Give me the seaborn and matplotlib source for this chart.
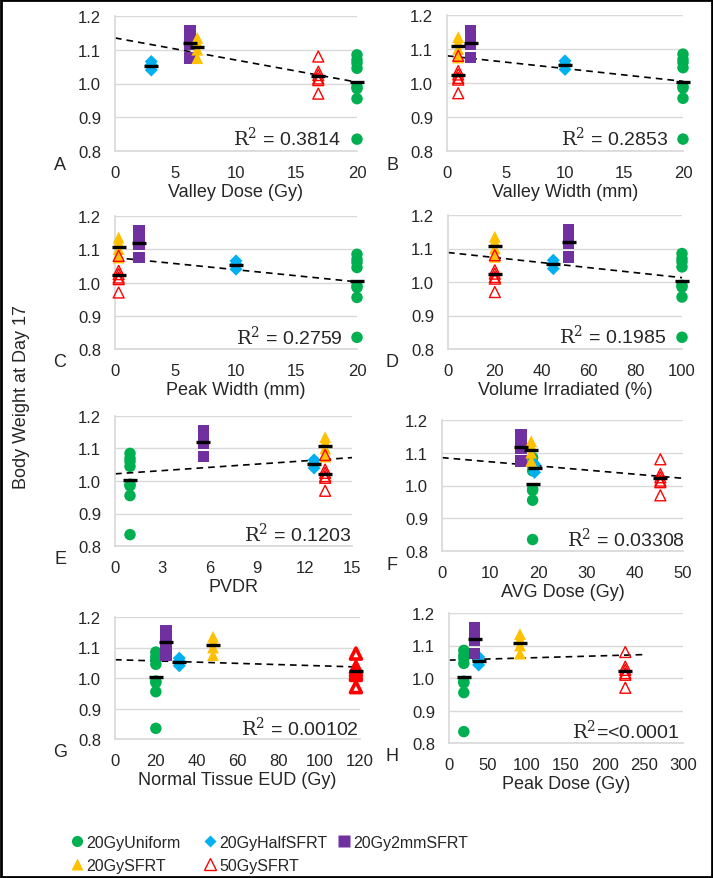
import numpy as np
import pandas as pd
import matplotlib
matplotlib.use("Agg")
import matplotlib.pyplot as plt
from matplotlib.lines import Line2D
from matplotlib.patches import Rectangle
from matplotlib.ticker import FormatStrFormatter
import seaborn as sns

# groups and per-mouse body weight at day 17 (relative)
groups = ["20GyUniform", "20GyHalfSFRT", "20Gy2mmSFRT", "20GySFRT", "50GySFRT"]
w_uniform = [1.085, 1.07, 1.06, 1.045, 0.99, 0.985, 0.955, 0.835]
w_half = [1.065, 1.055, 1.04]
w_2mm = [1.155, 1.13, 1.115, 1.075]
w_sfrt = [1.135, 1.12, 1.10, 1.075]
w_50gy = [1.08, 1.035, 1.025, 1.015, 1.01, 0.97]

# x value of each group in each panel (same order as groups)
x_valley_dose = [20, 3, 6.2, 6.8, 16.8]
x_valley_width = [20, 10, 2, 0.95, 0.95]
x_peak_width = [20, 10, 2, 0.3, 0.3]
x_volume = [100, 45, 51.5, 20, 20]
x_pvdr = [0.95, 12.6, 5.6, 13.3, 13.3]
x_avg_dose = [18.8, 19.2, 16.4, 18.5, 45.3]
x_eud = [20, 31.5, 25, 48, 118]
x_peak_dose = [19, 38, 33, 91, 226]

# dashed trend lines: (x0, y0, x1, y1)
trend_a = (0, 1.135, 20, 1.004)
trend_b = (0, 1.080, 20, 1.005)
trend_c = (0, 1.075, 20, 1.002)
trend_d = (0, 1.088, 100, 1.013)
trend_e = (0, 1.022, 15, 1.072)
trend_f = (0, 1.085, 50, 1.022)
trend_g = (0, 1.060, 120, 1.036)
trend_h = (0, 1.055, 250, 1.072)

r2_labels = ["0.3814", "0.2853", "0.2759", "0.1985", "0.1203", "0.03308", "0.00102", "<0.0001"]

colors = ["#00B050", "#00B0F0", "#7030A0", "#FFC000", "#FF0000"]
markers = ["o", "D", "s", "^", "^"]
sizes = [68, 44, 68, 72, 62]

weights = [w_uniform, w_half, w_2mm, w_sfrt, w_50gy]
df = pd.DataFrame({
    "group": np.repeat(groups, [len(w) for w in weights]),
    "weight": np.concatenate(weights),
})

panels = [
    ("A", "Valley Dose (Gy)", x_valley_dose, 20, 5, trend_a, (115, 17, 357, 152), 0.93),
    ("B", "Valley Width (mm)", x_valley_width, 20, 5, trend_b, (447, 16, 683, 152), 0.935),
    ("C", "Peak Width (mm)", x_peak_width, 20, 5, trend_c, (115, 217, 357, 350), 0.94),
    ("D", "Volume Irradiated (%)", x_volume, 100, 20, trend_d, (448, 216, 682, 350), 0.93),
    ("E", "PVDR", x_pvdr, 15, 3, trend_e, (115, 417, 352, 547), 0.995),
    ("F", "AVG Dose (Gy)", x_avg_dose, 50, 10, trend_f, (442, 421, 683, 552), 1.01),
    ("G", "Normal Tissue EUD (Gy)", x_eud, 120, 20, trend_g, (115, 618, 360, 740), 0.995),
    ("H", "Peak Dose (Gy)", x_peak_dose, 300, 50, trend_h, (449, 614, 683, 744), 0.985),
]

sns.set_theme(style="white")
plt.rcParams["font.family"] = ["Liberation Sans", "DejaVu Sans"]
plt.rcParams["mathtext.fontset"] = "dejavuserif"

W, H = 713, 879
fig = plt.figure(figsize=(W / 100, H / 100), dpi=100)

for i, (letter, xlabel, xs, xmax, step, trend, box, r2x) in enumerate(panels):
    l, t, r, b = box
    ax = fig.add_axes([l / W, 1 - b / H, (r - l) / W, (b - t) / H])
    d = df.copy()
    d["x"] = d["group"].map(dict(zip(groups, xs)))

    ax.plot([trend[0], trend[2]], [trend[1], trend[3]], ls=(0, (4, 3)),
            color="black", lw=1.2, zorder=2)

    for g, c, m, s in zip(groups, colors, markers, sizes):
        sub = d[d["group"] == g]
        if g == "50GySFRT":
            lw = 2.6 if letter == "G" else 1.0
            sns.scatterplot(data=sub, x="x", y="weight", marker=m, s=s,
                            facecolor="none", edgecolor=c, linewidth=lw,
                            ax=ax, clip_on=False, zorder=3)
        else:
            sns.scatterplot(data=sub, x="x", y="weight", marker=m, s=s,
                            color=c, edgecolor="none", ax=ax,
                            clip_on=False, zorder=3)

    means = d.groupby("group", sort=False).agg(x=("x", "first"), y=("weight", "mean"))
    ax.plot(means["x"], means["y"], ls="none", marker="_", ms=10, mew=2.4,
            color="black", zorder=4, clip_on=False)

    ax.set_xlim(0, xmax)
    ax.set_xticks(np.arange(0, xmax + step / 2, step))
    ax.set_ylim(0.8, 1.2)
    ax.set_yticks([0.8, 0.9, 1.0, 1.1, 1.2])
    ax.yaxis.set_major_formatter(FormatStrFormatter("%.1f"))
    ax.grid(axis="y", color="#d9d9d9", lw=1)
    ax.grid(axis="x", visible=False)
    ax.tick_params(length=0, pad=10, labelsize=12)
    for side in ["top", "right"]:
        ax.spines[side].set_visible(False)
    for side in ["left", "bottom"]:
        ax.spines[side].set_color("#d9d9d9")
    ax.set_xlabel(xlabel, fontsize=13, labelpad=2)
    ax.set_ylabel("")

    sep = "=" if letter == "H" else " = "
    ax.text(r2x, 0.1, r"$\mathrm{R}^2$" + sep + r2_labels[i], transform=ax.transAxes,
            ha="right", va="center", fontsize=14)

    lx = 60 if l < 300 else 392
    fig.text(lx / W, 1 - (b + 13) / H, letter, ha="center", va="center", fontsize=13)

fig.text(22 / W, 1 - 397 / H, "Body Weight at Day 17", rotation=90,
         ha="center", va="center", fontsize=13)

handles = []
for g, c, m in zip(groups, colors, markers):
    if g == "50GySFRT":
        h = Line2D([], [], ls="none", marker=m, ms=8, mfc="none", mec=c, mew=1.0)
    else:
        h = Line2D([], [], ls="none", marker=m, ms=8 if m != "D" else 6.5, color=c, mec="none")
    handles.append(h)

# Excel style legend: three equal-width columns
legend_columns = [[0, 3], [1, 4], [2]]
col_x = [71, 204, 338]
for cols, x in zip(legend_columns, col_x):
    leg = fig.legend([handles[k] for k in cols], [groups[k] for k in cols],
                     loc="upper left", bbox_to_anchor=(x / W, 1 - 836 / H),
                     frameon=False, fontsize=11.5, handlelength=0.8,
                     handletextpad=0.15, labelspacing=0.5, borderpad=0,
                     borderaxespad=0)

fig.patches.append(Rectangle((0.001, 0.001), 0.998, 0.998, transform=fig.transFigure,
                             fill=False, edgecolor="black", lw=2))

fig.savefig("out.png", dpi=100)
